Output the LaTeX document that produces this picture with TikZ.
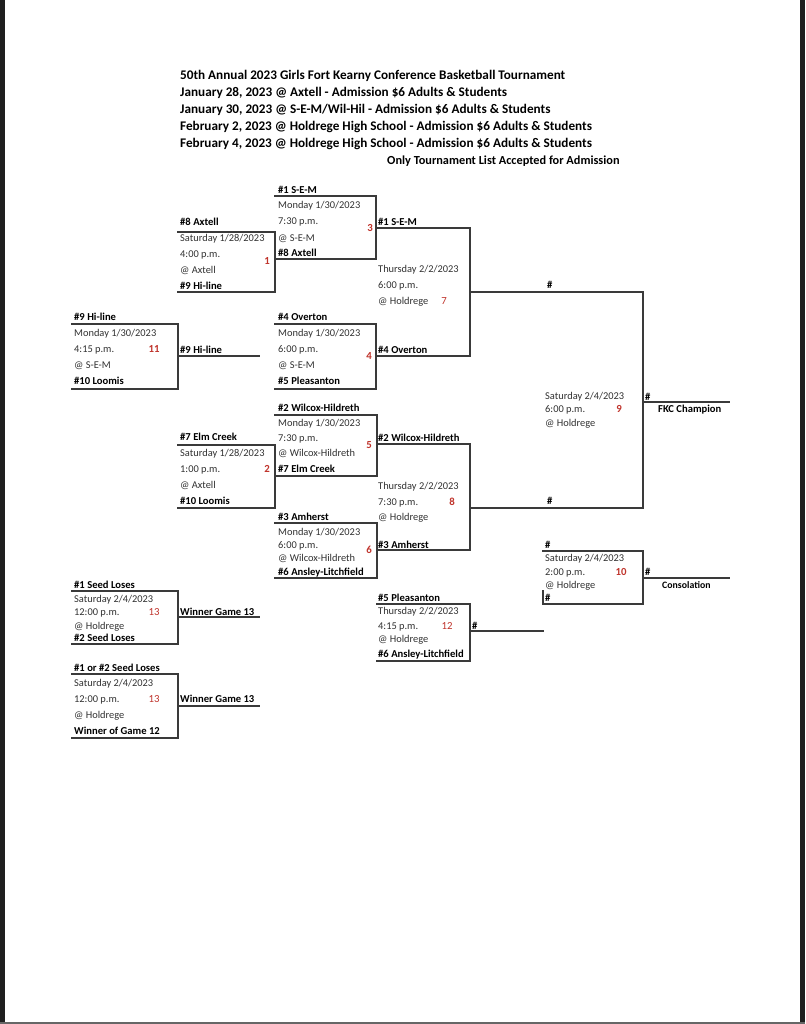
\documentclass[tikz,border=0pt]{standalone}
\usepackage{fontspec}
\setmainfont{Carlito}
\usetikzlibrary{positioning}
\definecolor{linegray}{RGB}{58,58,58}
\definecolor{textgray}{RGB}{50,50,50}
\definecolor{gamered}{RGB}{192,52,44}

\begin{document}
\begin{tikzpicture}[x=1pt,y=-1pt,line cap=rect,line join=miter,
    bline/.style={draw=linegray,line width=1.25pt},
    txt/.style={anchor=base west,inner sep=0pt,text=textgray,
      font=\fontsize{10.4}{12}\selectfont},
    team/.style={txt,text=black,font=\fontsize{10.6}{12}\selectfont\bfseries},
    gnum/.style={anchor=base,inner sep=0pt,text=gamered,
      font=\fontsize{10.8}{12}\selectfont\bfseries},
    gnumlt/.style={gnum,font=\fontsize{10.8}{12}\selectfont},
    head/.style={anchor=base west,inner sep=0pt,
      font=\fontsize{13.2}{15}\selectfont\bfseries}]
    % Page with the dark frame of the screenshot.
    \useasboundingbox (0,0) rectangle (805,1024);
    \fill[white] (0,0) rectangle (805,1024);
    \fill[black!88] (0,0) rectangle (4.5,1024);
    \fill[black!88] (799.5,0) rectangle (805,1024);
    \fill[black!60] (0,1021.5) rectangle (805,1024);

    % Heading lines.
    \foreach \h [count=\i] in {%
      {50th Annual 2023 Girls Fort Kearny Conference Basketball Tournament},
      {January 28, 2023 @ Axtell - Admission \$6 Adults \& Students},
      {January 30, 2023 @ S-E-M/Wil-Hil - Admission \$6 Adults \& Students},
      {February 2, 2023 @ Holdrege High School - Admission \$6 Adults \& Students},
      {February 4, 2023 @ Holdrege High School - Admission \$6 Adults \& Students}}
      \node[head] (head\i) at (180,63.2+16.8*\i) {\h};
    \node[head,font=\fontsize{12.3}{14}\selectfont\bfseries] (note)
      at (387,164.5) {Only Tournament List Accepted for Admission};

    % Game 3 (top of the upper half).
    \draw[bline] (275,196) -| (376,259) -- (275,259);
    \node[team] (g3a) at (278,193.5) {\#1 S-E-M};
    \node[txt] (g3d) at (278,209) {Monday 1/30/2023};
    \node[txt] (g3t) at (278,225) {7:30 p.m.};
    \node[txt] (g3p) at (278,241) {@ S-E-M};
    \node[team] (g3b) at (278,256.5) {\#8 Axtell};
    \node[gnum] (g3n) at (370,232) {3};

    % Game 1.
    \draw[bline] (178,232) -| (275,292) -- (178,292);
    \node[team] (g1a) at (180,225.5) {\#8 Axtell};
    \node[txt] (g1d) at (180,241.5) {Saturday 1/28/2023};
    \node[txt] (g1t) at (180,257.5) {4:00 p.m.};
    \node[txt] (g1p) at (180,273.5) {@ Axtell};
    \node[team] (g1b) at (180,289.5) {\#9 Hi-line};
    \node[gnum] (g1n) at (267,264.5) {1};

    % Game 11 and its winner line.
    \draw[bline] (72,324) -| (178,389) -- (72,389);
    \draw[bline] (178,356) -- (259,356);
    \node[team] (g11a) at (74,320.5) {\#9 Hi-line};
    \node[txt] (g11d) at (74,336.5) {Monday 1/30/2023};
    \node[txt] (g11t) at (74,352.5) {4:15 p.m.};
    \node[txt] (g11p) at (74,368.5) {@ S-E-M};
    \node[team] (g11b) at (74,384.5) {\#10 Loomis};
    \node[gnum] (g11n) at (154,352.5) {11};
    \node[team] (g11w) at (180,353.5) {\#9 Hi-line};

    % Game 4.
    \draw[bline] (275,324) -| (376,389) -- (275,389);
    \node[team] (g4a) at (278,320.5) {\#4 Overton};
    \node[txt] (g4d) at (278,336.5) {Monday 1/30/2023};
    \node[txt] (g4t) at (278,352.5) {6:00 p.m.};
    \node[txt] (g4p) at (278,368.5) {@ S-E-M};
    \node[team] (g4b) at (278,384.5) {\#5 Pleasanton};
    \node[gnum] (g4n) at (369,359.5) {4};

    % Game 7, fed by games 3 and 4.
    \draw[bline] (376,228) -| (470,356) -- (376,356);
    \node[team] (g7a) at (378,225.5) {\#1 S-E-M};
    \node[txt] (g7d) at (378,272.5) {Thursday 2/2/2023};
    \node[txt] (g7t) at (378,288.5) {6:00 p.m.};
    \node[txt] (g7p) at (378,304.5) {@ Holdrege};
    \node[team] (g7b) at (378,353.5) {\#4 Overton};
    \node[gnumlt] (g7n) at (444,304.5) {7};

    % Game 5.
    \draw[bline] (275,415) -| (377,476) -- (275,476);
    \node[team] (g5a) at (278,411.5) {\#2 Wilcox-Hildreth};
    \node[txt] (g5d) at (278,426.5) {Monday 1/30/2023};
    \node[txt] (g5t) at (278,441.5) {7:30 p.m.};
    \node[txt] (g5p) at (278,456.5) {@ Wilcox-Hildreth};
    \node[team] (g5b) at (278,472.5) {\#7 Elm Creek};
    \node[gnum] (g5n) at (369,448.5) {5};

    % Game 2.
    \draw[bline] (178,445) -| (275,508) -- (178,508);
    \node[team] (g2a) at (180,440.5) {\#7 Elm Creek};
    \node[txt] (g2d) at (180,456.5) {Saturday 1/28/2023};
    \node[txt] (g2t) at (180,472.5) {1:00 p.m.};
    \node[txt] (g2p) at (180,488.5) {@ Axtell};
    \node[team] (g2b) at (180,504.5) {\#10 Loomis};
    \node[gnum] (g2n) at (267,472.5) {2};

    % Game 6.
    \draw[bline] (275,523) -| (377,578) -- (275,578);
    \node[team] (g6a) at (278,520.5) {\#3 Amherst};
    \node[txt] (g6d) at (278,535.5) {Monday 1/30/2023};
    \node[txt] (g6t) at (278,548.5) {6:00 p.m.};
    \node[txt] (g6p) at (278,561.5) {@ Wilcox-Hildreth};
    \node[team] (g6b) at (278,575.5) {\#6 Ansley-Litchfield};
    \node[gnum] (g6n) at (369,553.5) {6};

    % Game 8, fed by games 5 and 6.
    \draw[bline] (377,444) -| (470,550) -- (377,550);
    \node[team] (g8a) at (378,441.5) {\#2 Wilcox-Hildreth};
    \node[txt] (g8d) at (378,489.5) {Thursday 2/2/2023};
    \node[txt] (g8t) at (378,505.5) {7:30 p.m.};
    \node[txt] (g8p) at (378,520.5) {@ Holdrege};
    \node[team] (g8b) at (378,548.5) {\#3 Amherst};
    \node[gnum] (g8n) at (452,505.5) {8};

    % Game 9, the final, and the champion line.
    \draw[bline] (470,292) -| (643,508) -- (470,508);
    \draw[bline] (643,402) -- (729,402);
    \node[team] (g9a) at (547,288.5) {\#};
    \node[team] (g9b) at (547,504.5) {\#};
    \node[txt] (g9d) at (545,399.5) {Saturday 2/4/2023};
    \node[txt] (g9t) at (545,412.5) {6:00 p.m.};
    \node[txt] (g9p) at (545,426.5) {@ Holdrege};
    \node[gnum] (g9n) at (619,412.5) {9};
    \node[team] (g9w) at (645,400.5) {\#};
    \node[team,font=\fontsize{10.6}{12}\selectfont\bfseries] (champ)
      at (658,412.5) {FKC Champion};

    % Game 10, consolation.
    \draw[bline] (543,551) -| (643,604) -- (543,604) -- (543,591);
    \draw[bline] (643,578) -- (729,578);
    \node[team] (g10a) at (545,548.5) {\#};
    \node[txt] (g10d) at (545,561.5) {Saturday 2/4/2023};
    \node[txt] (g10t) at (545,575.5) {2:00 p.m.};
    \node[txt] (g10p) at (545,588.5) {@ Holdrege};
    \node[team] (g10b) at (545,601.5) {\#};
    \node[gnum] (g10n) at (621,575.5) {10};
    \node[team] (g10w) at (645,575.5) {\#};
    \node[team,font=\fontsize{9.8}{11}\selectfont\bfseries] (consol)
      at (662,588.5) {Consolation};

    % Game 12 and its winner line.
    \draw[bline] (377,604) -| (470,661) -- (377,661);
    \draw[bline] (470,631) -- (543,631);
    \node[team] (g12a) at (378,601.5) {\#5 Pleasanton};
    \node[txt] (g12d) at (378,614.5) {Thursday 2/2/2023};
    \node[txt] (g12t) at (378,629.5) {4:15 p.m.};
    \node[txt] (g12p) at (378,642.5) {@ Holdrege};
    \node[team] (g12b) at (378,657.5) {\#6 Ansley-Litchfield};
    \node[gnumlt] (g12n) at (447,629.5) {12};
    \node[team] (g12w) at (472,629.5) {\#};

    % The two games numbered 13.
    \draw[bline] (72,591) -| (178,644) -- (72,644);
    \draw[bline] (178,617) -- (259,617);
    \node[team] (g13a) at (74,588.5) {\#1 Seed Loses};
    \node[txt] (g13d) at (74,602.5) {Saturday 2/4/2023};
    \node[txt] (g13t) at (74,615.5) {12:00 p.m.};
    \node[txt] (g13p) at (74,629.5) {@ Holdrege};
    \node[team] (g13b) at (74,641.5) {\#2 Seed Loses};
    \node[gnumlt] (g13n) at (154,615.5) {13};
    \node[team] (g13w) at (180,615.5) {Winner Game 13};

    \draw[bline] (72,674) -| (178,738) -- (72,738);
    \draw[bline] (178,706) -- (259,706);
    \node[team] (h13a) at (74,671.5) {\#1 or \#2 Seed Loses};
    \node[txt] (h13d) at (74,686.5) {Saturday 2/4/2023};
    \node[txt] (h13t) at (74,702.5) {12:00 p.m.};
    \node[txt] (h13p) at (74,718.5) {@ Holdrege};
    \node[team] (h13b) at (74,734.5) {Winner of Game 12};
    \node[gnumlt] (h13n) at (154,702.5) {13};
    \node[team] (h13w) at (180,702.5) {Winner Game 13};
  \end{tikzpicture}
\end{document}
